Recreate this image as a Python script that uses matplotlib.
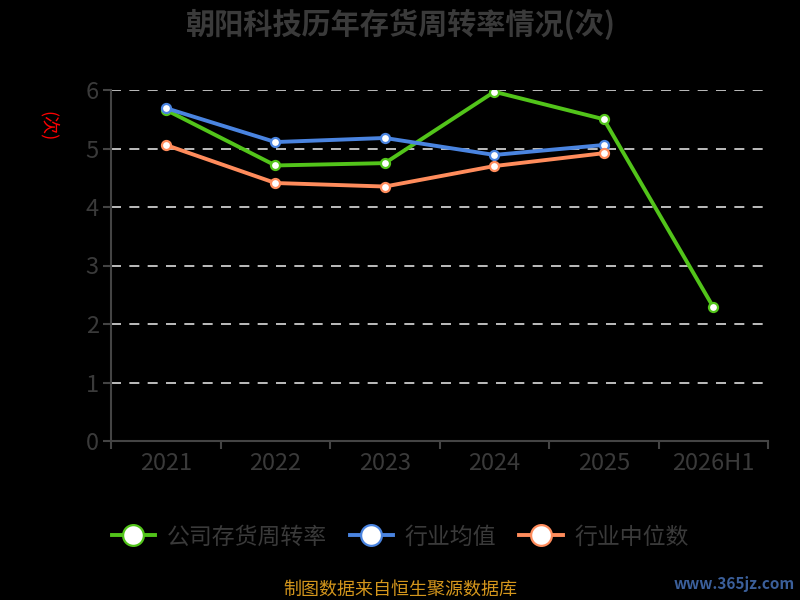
import matplotlib.pyplot as plt

plt.rcParams['font.family'] = ['Noto Sans CJK SC', 'DejaVu Sans']

years = ["2021", "2022", "2023", "2024", "2025", "2026H1"]
company = [5.66, 4.71, 4.75, 5.97, 5.50, 2.29]
ind_mean = [5.69, 5.11, 5.18, 4.89, 5.06]
ind_median = [5.06, 4.41, 4.35, 4.70, 4.92]

GREEN = "#52c41a"
BLUE = "#4a84e0"
ORANGE = "#ff8c5c"
TXT = "#3a3a3a"

fig = plt.figure(figsize=(8, 6), dpi=100, facecolor="black")
ax = fig.add_axes([0.139, 0.265, 0.821, 0.585], facecolor="black")

x = list(range(len(years)))
series = [
    (company, GREEN, "公司存货周转率"),
    (ind_mean, BLUE, "行业均值"),
    (ind_median, ORANGE, "行业中位数"),
]
for vals, col, name in series:
    ax.plot(x[:len(vals)], vals, color=col, lw=2.8, marker="o", ms=6.5,
            markerfacecolor="white", markeredgecolor=col, markeredgewidth=1.6,
            label=name, zorder=3)

ax.set_xlim(-0.5, len(years) - 0.5)
ax.set_ylim(0, 6)
ax.set_yticks(range(0, 7))
for y in range(1, 7):
    ax.axhline(y, color="#dddddd", lw=1.2, ls=(0, (6, 5)), zorder=1)

ax.set_xticks(x)
ax.set_xticklabels(years)
ax.set_xticks([i - 0.5 for i in range(len(years) + 1)], minor=True)
ax.tick_params(axis="x", which="major", length=0, pad=8, labelsize=17, labelcolor=TXT)
ax.tick_params(axis="x", which="minor", length=6, color="#444444", width=1.5)
ax.tick_params(axis="y", length=6, color="#444444", width=1.5, labelsize=17,
               labelcolor=TXT, pad=3)

for s in ["top", "right"]:
    ax.spines[s].set_visible(False)
for s in ["left", "bottom"]:
    ax.spines[s].set_color("#444444")
    ax.spines[s].set_linewidth(1.5)

fig.text(0.06, 0.79, "(次)", color="red", fontsize=13, rotation=-90,
         ha="center", va="center")

fig.text(0.5, 0.96, "朝阳科技历年存货周转率情况(次)", color=TXT, fontsize=21,
         fontweight="bold", ha="center", va="center")

leg = fig.legend(loc="center", bbox_to_anchor=(0.5, 0.105), ncol=3, frameon=False,
                 fontsize=16.5, handlelength=1.9, columnspacing=1.0, handletextpad=0.5,
                 markerscale=2.3)
for t in leg.get_texts():
    t.set_color(TXT)

fig.text(0.5, 0.017, "制图数据来自恒生聚源数据库", color="#d4961c", fontsize=13,
         ha="center", va="center")
fig.text(0.918, 0.027, "www.365jz.com", color="#3b5f9a", fontsize=11,
         fontweight="bold", ha="center", va="center")

fig.savefig("out.png", dpi=100, facecolor="black")
